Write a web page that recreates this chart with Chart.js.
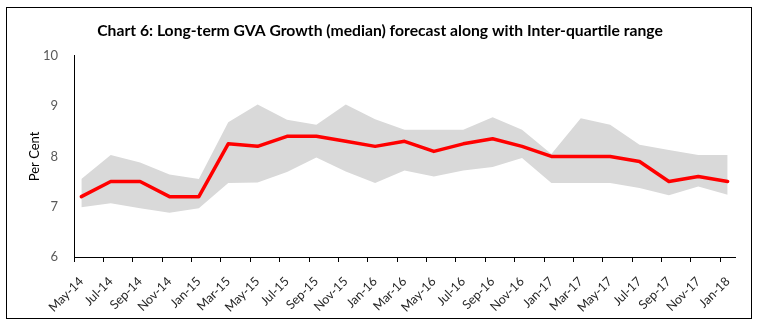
<!DOCTYPE html>
<html>
<head>
<meta charset="utf-8">
<script src="https://cdn.jsdelivr.net/npm/chart.js@4/dist/chart.umd.min.js"></script>
<style>
  html, body { margin: 0; padding: 0; background: #fff; }
  #frame { position: absolute; left: 6px; top: 7px; width: 744px; height: 310px; border: 1px solid #000; }
  #c { display: block; }
</style>
</head>
<body>
<div id="frame"><canvas id="c" width="744" height="310"></canvas></div>
<script>
// ---- data ----
const categories = ['May-14','Jul-14','Sep-14','Nov-14','Jan-15','Mar-15','May-15','Jul-15','Sep-15','Nov-15','Jan-16','Mar-16','May-16','Jul-16','Sep-16','Nov-16','Jan-17','Mar-17','May-17','Jul-17','Sep-17','Nov-17','Jan-18'];
const medianGrowth = [7.2,7.5,7.5,7.2,7.2,8.25,8.2,8.4,8.4,8.3,8.2,8.3,8.1,8.25,8.35,8.2,8.0,8.0,8.0,7.9,7.5,7.6,7.5];
const upperQuartile = [7.55,8.03,7.88,7.64,7.55,8.68,9.03,8.73,8.63,9.03,8.74,8.53,8.53,8.53,8.78,8.53,8.05,8.76,8.63,8.23,8.13,8.03,8.03];
const lowerQuartile = [6.99,7.07,6.97,6.88,6.97,7.47,7.48,7.69,7.98,7.7,7.47,7.72,7.6,7.72,7.79,7.97,7.47,7.47,7.47,7.37,7.23,7.4,7.24];
const yTicks = [6,7,8,9,10];
const titleText = 'Chart 6: Long-term GVA Growth (median) forecast along with Inter-quartile range';
const yTitle = 'Per Cent';

// month position of each category on a monthly date axis
const MONTHS = ['Jan','Feb','Mar','Apr','May','Jun','Jul','Aug','Sep','Oct','Nov','Dec'];
function monthNum(lbl){ const [m,y] = lbl.split('-'); return (+y)*12 + MONTHS.indexOf(m); }
const base = monthNum(categories[0]);
const xPos = categories.map(l => monthNum(l) - base);
const xMin = xPos[0] - 0.5, xMax = xPos[xPos.length-1] + 0.5;

const pts = arr => arr.map((v,i) => ({x: xPos[i], y: v}));
const labelAt = {}; xPos.forEach((p,i) => labelAt[p] = categories[i]);

const FONT = 'Lato';

new Chart(document.getElementById('c'), {
  type: 'line',
  data: {
    datasets: [
      { data: pts(medianGrowth), borderColor: '#FF0000', borderWidth: 3.5, pointRadius: 0,
        borderJoinStyle: 'round', borderCapStyle: 'round', fill: false, tension: 0 },
      { data: pts(upperQuartile), borderWidth: 0, borderColor: 'rgba(0,0,0,0)', pointRadius: 0,
        backgroundColor: '#D9D9D9', fill: '+1', tension: 0 },
      { data: pts(lowerQuartile), borderWidth: 0, borderColor: 'rgba(0,0,0,0)', pointRadius: 0,
        fill: false, tension: 0 }
    ]
  },
  options: {
    responsive: false,
    animation: false,
    events: [],
    layout: { padding: { left: 18, right: 16, top: 0, bottom: 0 } },
    plugins: {
      legend: { display: false },
      tooltip: { enabled: false },
      title: { display: true, text: titleText, color: '#000',
        font: { family: FONT, size: 15.7, weight: 'bold' }, padding: { top: 14, bottom: 15 } }
    },
    scales: {
      x2: {
        type: 'linear', position: 'bottom', weight: 0, min: xMin, max: xMax,
        afterBuildTicks: s => { s.ticks = xPos.map(p => ({ value: p - 0.5 })); },
        ticks: { display: false },
        grid: { display: true, drawOnChartArea: false, drawTicks: true, tickLength: 5, color: '#000', lineWidth: 1 },
        border: { display: true, color: '#000', width: 1 }
      },
      x: {
        type: 'linear', position: 'bottom', weight: 1, min: xMin, max: xMax,
        afterBuildTicks: s => { s.ticks = xPos.map(p => ({ value: p })); },
        afterFit: s => { s.height = 56; },
        ticks: { autoSkip: false, maxRotation: 45, minRotation: 45, padding: 4,
          color: '#262626', font: { family: FONT, size: 12.5 },
          callback: v => labelAt[v] },
        grid: { display: false },
        border: { display: false }
      },
      y: {
        min: 6, max: 10,
        afterBuildTicks: s => { s.ticks = yTicks.map(v => ({ value: v })); },
        afterFit: s => { s.width = 49; },
        ticks: { color: '#595959', font: { family: FONT, size: 13 }, padding: 8 },
        grid: { display: false },
        border: { display: true, color: '#000', width: 1 },
        title: { display: true, text: yTitle, color: '#000', font: { family: FONT, size: 13 },
          padding: { top: 2, bottom: 0 } }
      }
    }
  }
});
</script>
</body>
</html>
